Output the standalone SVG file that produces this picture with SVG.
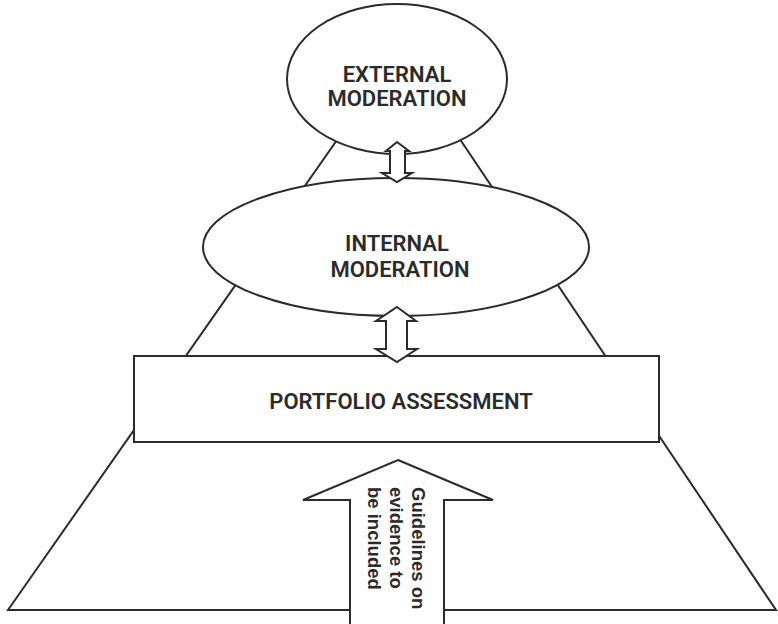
<svg xmlns="http://www.w3.org/2000/svg" width="778" height="624" viewBox="0 0 778 624">
<style>
.ln{fill:none;stroke:#2b2b2b;stroke-width:2;stroke-linejoin:miter}
.shp{fill:#ffffff;stroke:#2b2b2b;stroke-width:2;stroke-linejoin:miter}
.lbl{font-family:Roboto,"Liberation Sans",sans-serif;font-weight:600;font-size:22px;fill:#2b2b2b;text-anchor:middle}
.gl{font-family:"Liberation Sans",Arial,sans-serif;font-weight:bold;font-size:18.5px;fill:#2b2b2b}
</style>
<rect width="778" height="624" fill="#ffffff"/>
<g id="pyramid">
<polygon class="ln" points="8,610 400,50 776,610"/>
</g>
<g id="external">
<ellipse class="shp" cx="397" cy="79" rx="110" ry="75"/>
<text class="lbl" x="397" y="82">EXTERNAL</text>
<text class="lbl" x="397" y="106">MODERATION</text>
</g>
<g id="internal">
<ellipse class="shp" cx="396" cy="247" rx="193" ry="69"/>
<text class="lbl" x="397" y="251">INTERNAL</text>
<text class="lbl" x="400" y="277">MODERATION</text>
</g>
<g id="portfolio">
<rect class="shp" x="134" y="356" width="525" height="86"/>
<text class="lbl" x="401" y="409">PORTFOLIO ASSESSMENT</text>
</g>
<g id="guidelines">
<polygon class="shp" points="398,460 493,500 444,500 444,630 350,630 350,500 303,500"/>
<g transform="translate(412,487) rotate(90)">
<text class="gl" x="0" y="0">Guidelines on</text>
<text class="gl" x="0" y="22">evidence to</text>
<text class="gl" x="0" y="44">be included</text>
</g>
</g>
<g id="connectors">
<polygon class="shp" points="397,142 409,151 405,151 405,173 412,173 397,182 382,173 390,173 390,151 386,151"/>
<polygon class="shp" points="397,307 416,321 407,321 407,349 417,349 397,362 376,349 386,349 386,321 376,321"/>
</g>
</svg>
